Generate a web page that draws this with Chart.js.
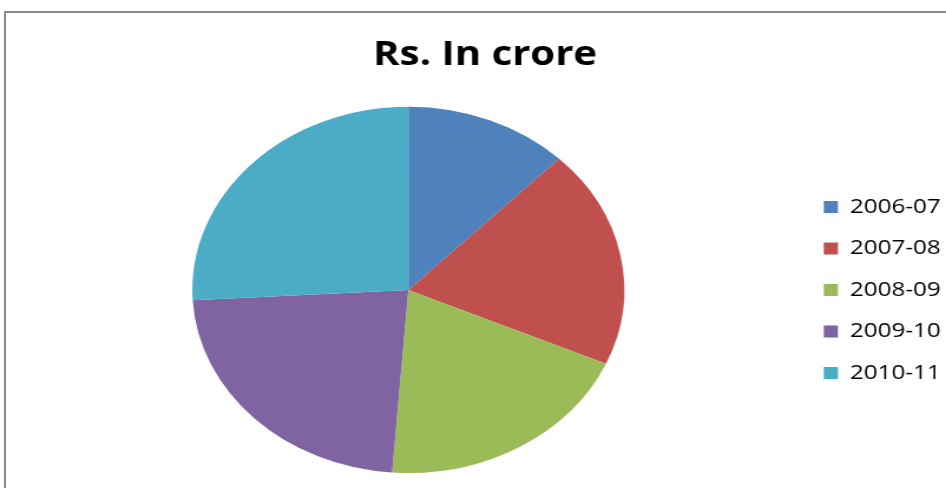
<!DOCTYPE html>
<html>
<head>
<meta charset="utf-8">
<script src="https://cdn.jsdelivr.net/npm/chart.js@4.4.1/dist/chart.umd.min.js"></script>
<style>
  html, body { margin: 0; padding: 0; background: #fff; overflow: hidden; }
  #wrap { position: relative; width: 946px; height: 488px; overflow: hidden; }
  #frame {
    position: absolute; left: 4px; top: 11px; width: 1000px; height: 600px;
    border-top: 2px solid #8a8a8a; border-left: 2px solid #8a8a8a;
  }
  #chart { position: absolute; left: 0; top: 0; transform-origin: 0 0; transform: scaleX(1.1796); }
</style>
</head>
<body>
<div id="wrap">
  <div id="frame"></div>
  <canvas id="chart" width="802" height="488"></canvas>
</div>
<script>
// Rs. in crore, per financial year
const years = ['2006-07', '2007-08', '2008-09', '2009-10', '2010-11'];
const amounts = [123, 193, 196, 229, 259];
const sliceColors = ['#4F81BD', '#C0504D', '#9BBB59', '#8064A2', '#4BACC6'];

const ctx = document.getElementById('chart').getContext('2d');

new Chart(ctx, {
    type: 'pie',
    data: {
        labels: years,
        datasets: [{
            data: amounts,
            backgroundColor: sliceColors,
            borderWidth: 0
        }]
    },
    options: {
        responsive: false,
        animation: false,
        devicePixelRatio: 1,
        layout: {
            padding: { top: 0, left: 15, right: -5.5, bottom: 15 }
        },
        plugins: {
            title: {
                display: true,
                text: 'Rs. In crore',
                color: '#000',
                font: { family: 'Open Sans', size: 34, weight: 'bold' },
                padding: { top: 35, bottom: 31 }
            },
            legend: {
                position: 'right',
                fullSize: false,
                labels: {
                    color: '#000',
                    boxWidth: 12,
                    boxHeight: 12,
                    padding: 21,
                    font: { family: 'Open Sans', size: 20.5 }
                }
            },
            tooltip: { enabled: false }
        }
    }
});
</script>
</body>
</html>
